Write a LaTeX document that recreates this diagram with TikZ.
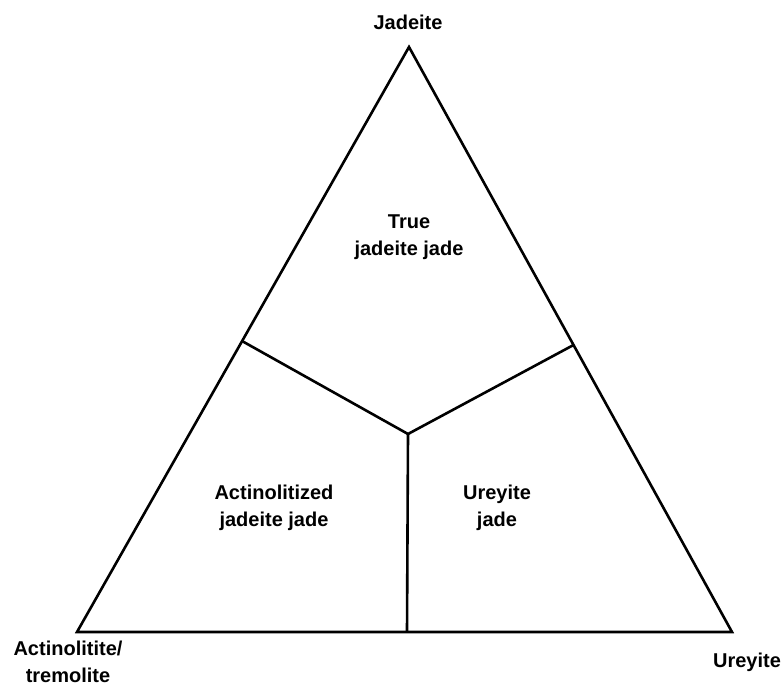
\documentclass[tikz,border=0pt]{standalone}
\usepackage{fontspec}
\setmainfont{Liberation Sans}
\begin{document}
\begin{tikzpicture}[x=1pt,y=-1pt,
  edge/.style={line width=2.6pt,line join=miter},
  lbl/.style={font=\bfseries\fontsize{20}{27}\selectfont,align=center,inner sep=0pt}]
\useasboundingbox (0,0) rectangle (784,687);
\coordinate (J) at (409,47);
\coordinate (A) at (77,632);
\coordinate (U) at (732,632);
\coordinate (C) at (408,434);
\coordinate (L) at (242,341);
\coordinate (R) at (573.5,345);
\coordinate (B) at (407,632);
\draw[edge] (J) -- (A) -- (U) -- cycle;
\draw[edge] (L) -- (C) -- (R);
\draw[edge] (C) -- (B);
\node[lbl] (nJ) at (408,22) {Jadeite};
\node[lbl,anchor=north] (nA) at (68,641) {Actinolitite/\\tremolite};
\node[lbl] (nU) at (747,662) {Ureyite};
\node[lbl] (nT) at (409,237) {True\\jadeite jade};
\node[lbl] (nAc) at (274,508) {Actinolitized\\jadeite jade};
\node[lbl] (nUr) at (497,508) {Ureyite\\jade};
\end{tikzpicture}
\end{document}
